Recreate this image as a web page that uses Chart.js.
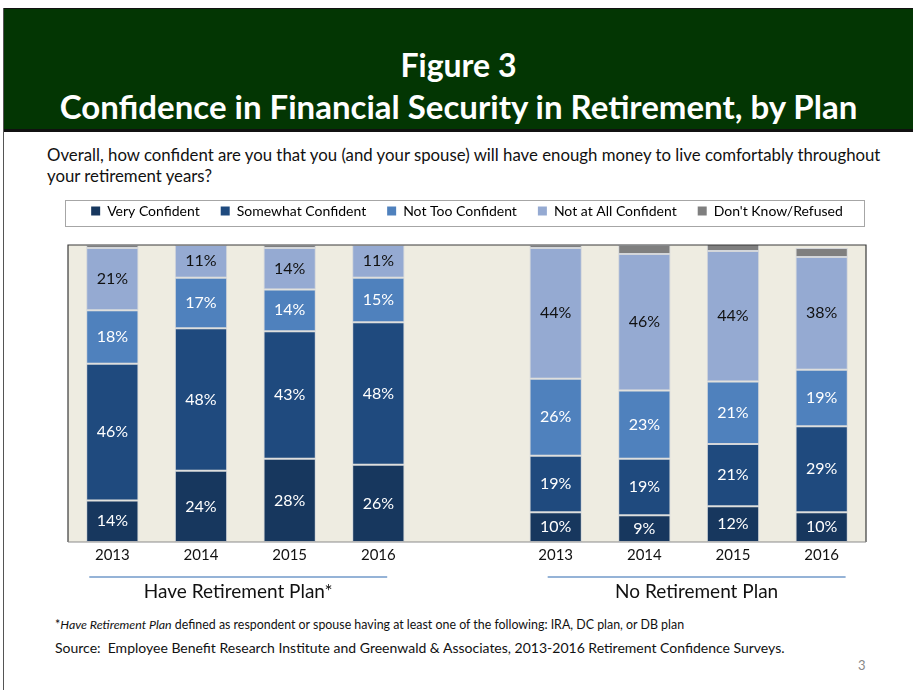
<!DOCTYPE html>
<html>
<head>
<meta charset="utf-8">
<script src="https://cdn.jsdelivr.net/npm/chart.js@4.4.0/dist/chart.umd.min.js"></script>
<style>
  html, body { margin: 0; padding: 0; background: #fff; }
  body { width: 913px; height: 690px; position: relative; overflow: hidden; font-family: Lato, "Open Sans", sans-serif; color: #111; }
  .edge { position: absolute; left: 3px; top: 8px; width: 1px; height: 682px; background: #555; }
  .header { position: absolute; left: 4px; top: 8px; width: 909px; height: 120px; background: #033603; border-top: 1px solid #111; border-bottom: 3px solid #111; color: #fff; text-align: center; font-weight: bold; }
  .header .l1 { position: absolute; left: 0; right: 0; top: 36px; font-size: 32px; }
  .header .l2 { position: absolute; left: 0; right: 0; top: 77px; font-size: 33px; }
  .question { position: absolute; left: 47px; top: 144px; width: 850px; font-size: 16.8px; line-height: 21px; }
  .note { position: absolute; left: 55px; top: 617px; font-size: 12.4px; }
  .source { position: absolute; left: 55px; top: 639px; font-size: 14px; }
  .page { position: absolute; left: 858px; top: 657px; font-size: 13px; color: #888; }
  #wrap { position: absolute; left: 40px; top: 183px; width: 840px; height: 425px; }
</style>
</head>
<body>
<div class="edge"></div>
<div class="header">
  <div class="l1">Figure 3</div>
  <div class="l2">Confidence in Financial Security in Retirement, by Plan</div>
</div>
<div class="question">Overall, how confident are you that you (and your spouse) will have enough money to live comfortably throughout<br>your retirement years?</div>
<div id="wrap"><canvas id="chart" width="840" height="425"></canvas></div>
<div class="note">*<i>Have Retirement Plan</i> defined as respondent or spouse having at least one of the following: IRA, DC plan, or DB plan</div>
<div class="source">Source:&nbsp; Employee Benefit Research Institute and Greenwald &amp; Associates, 2013-2016 Retirement Confidence Surveys.</div>
<div class="page">3</div>

<script>
// categories: 4 years with a plan, an empty gap slot, 4 years without a plan
const years = ['2013', '2014', '2015', '2016', '', '2013', '2014', '2015', '2016'];

const veryConfident     = [14, 24, 28, 26, null, 10,  9, 12, 10];
const somewhatConfident = [46, 48, 43, 48, null, 19, 19, 21, 29];
const notTooConfident   = [18, 17, 14, 15, null, 26, 23, 21, 19];
const notAtAllConfident = [21, 11, 14, 11, null, 44, 46, 44, 38];
const dontKnow          = [ 1,  1,  1,  1, null,  1,  3,  3,  3];

const groupNames = ['Have Retirement Plan*', 'No Retirement Plan'];
const groupFirst = [0, 5];
const groupLast = [3, 8];

const plotBg = '#EEECE1';

// plot background, frame, value labels and group captions
const decor = {
    id: 'decor',
    beforeInit(chart) {
        const fit = chart.legend.fit;
        chart.legend.fit = function () {
            fit.bind(chart.legend)();
            this.height = 62;
        };
    },
    beforeDraw(chart) {
        const a = chart.chartArea, ctx = chart.ctx;
        ctx.save();
        ctx.fillStyle = plotBg;
        ctx.fillRect(a.left, a.top, a.right - a.left, a.bottom - a.top);
        ctx.restore();
    },
    afterDatasetsDraw(chart) {
        const ctx = chart.ctx;
        ctx.save();
        ctx.font = '16px Lato, sans-serif';
        ctx.textAlign = 'center';
        ctx.textBaseline = 'middle';
        chart.data.datasets.forEach((ds, i) => {
            if (ds.noLabel) return;
            chart.getDatasetMeta(i).data.forEach((bar, j) => {
                const v = ds.data[j];
                if (v == null) return;
                ctx.fillStyle = ds.labelColor;
                ctx.fillText(v + '%', bar.x, (bar.y + bar.base) / 2);
            });
        });
        ctx.restore();
    },
    afterDraw(chart) {
        const a = chart.chartArea, ctx = chart.ctx, x = chart.scales.x;
        const lg = chart.legend;
        ctx.save();
        // frame
        ctx.strokeStyle = '#3a3a3a';
        ctx.lineWidth = 1.2;
        ctx.beginPath();
        ctx.moveTo(a.left, a.bottom);
        ctx.lineTo(a.left, a.top);
        ctx.lineTo(a.right, a.top);
        ctx.lineTo(a.right, a.bottom);
        ctx.stroke();
        ctx.strokeStyle = '#8c8c8c';
        ctx.beginPath();
        ctx.moveTo(a.left, a.bottom);
        ctx.lineTo(a.right, a.bottom);
        ctx.stroke();
        // legend box
        ctx.strokeStyle = '#a6a6a6';
        ctx.lineWidth = 1;
        ctx.strokeRect(a.left - 2.5, lg.top + 17.5, a.right - a.left + 1, 26);
        // group captions
        const step = x.getPixelForValue(1) - x.getPixelForValue(0);
        groupNames.forEach((name, g) => {
            const shift = g === 0 ? -0.08 : 0.09;
            const x0 = x.getPixelForValue(groupFirst[g]) + (shift - 0.18) * step;
            const x1 = x.getPixelForValue(groupLast[g]) + (shift + 0.18) * step;
            const y = a.bottom + 35;
            ctx.strokeStyle = '#95B3D7';
            ctx.lineWidth = 2;
            ctx.beginPath();
            ctx.moveTo(x0, y);
            ctx.lineTo(x1, y);
            ctx.stroke();
            ctx.fillStyle = '#111';
            ctx.font = '19px Lato, sans-serif';
            ctx.textAlign = 'center';
            ctx.textBaseline = 'middle';
            ctx.fillText(name, (x0 + x1) / 2, y + 15);
        });
        ctx.restore();
    }
};

const segBorder = 'rgba(200,205,215,0.7)';

new Chart(document.getElementById('chart'), {
    type: 'bar',
    data: {
        labels: years,
        datasets: [
            { label: 'Very Confident', data: veryConfident, backgroundColor: '#17375E', labelColor: '#fff' },
            { label: 'Somewhat Confident', data: somewhatConfident, backgroundColor: '#1F4A7E', labelColor: '#fff' },
            { label: 'Not Too Confident', data: notTooConfident, backgroundColor: '#4F81BD', labelColor: '#fff' },
            { label: 'Not at All Confident', data: notAtAllConfident, backgroundColor: '#95AAD2', labelColor: '#111' },
            { label: "Don't Know/Refused", data: dontKnow, backgroundColor: '#7F7F7F', noLabel: true }
        ].map(d => Object.assign(d, { borderColor: segBorder, borderWidth: 1, borderSkipped: false }))
    },
    options: {
        responsive: false,
        animation: false,
        layout: { padding: { left: 28, right: 14, top: 0, bottom: 40 } },
        datasets: { bar: { categoryPercentage: 1, barPercentage: 0.59 } },
        scales: {
            x: {
                stacked: true,
                grid: { display: false, drawTicks: false },
                border: { display: false },
                ticks: { color: '#111', font: { size: 15, family: 'Lato, sans-serif' }, padding: 4 }
            },
            y: {
                stacked: true,
                display: false,
                min: 0,
                max: 100
            }
        },
        plugins: {
            legend: {
                position: 'top',
                labels: {
                    color: '#111',
                    boxWidth: 9,
                    boxHeight: 9,
                    padding: 21,
                    font: { size: 14, family: 'Lato, sans-serif' },
                    generateLabels(chart) {
                        return chart.data.datasets.map((ds, i) => ({
                            text: ds.label,
                            fillStyle: ds.backgroundColor,
                            strokeStyle: ds.backgroundColor,
                            lineWidth: 0,
                            datasetIndex: i
                        }));
                    }
                }
            },
            tooltip: { enabled: false }
        }
    },
    plugins: [decor]
});
</script>
</body>
</html>
